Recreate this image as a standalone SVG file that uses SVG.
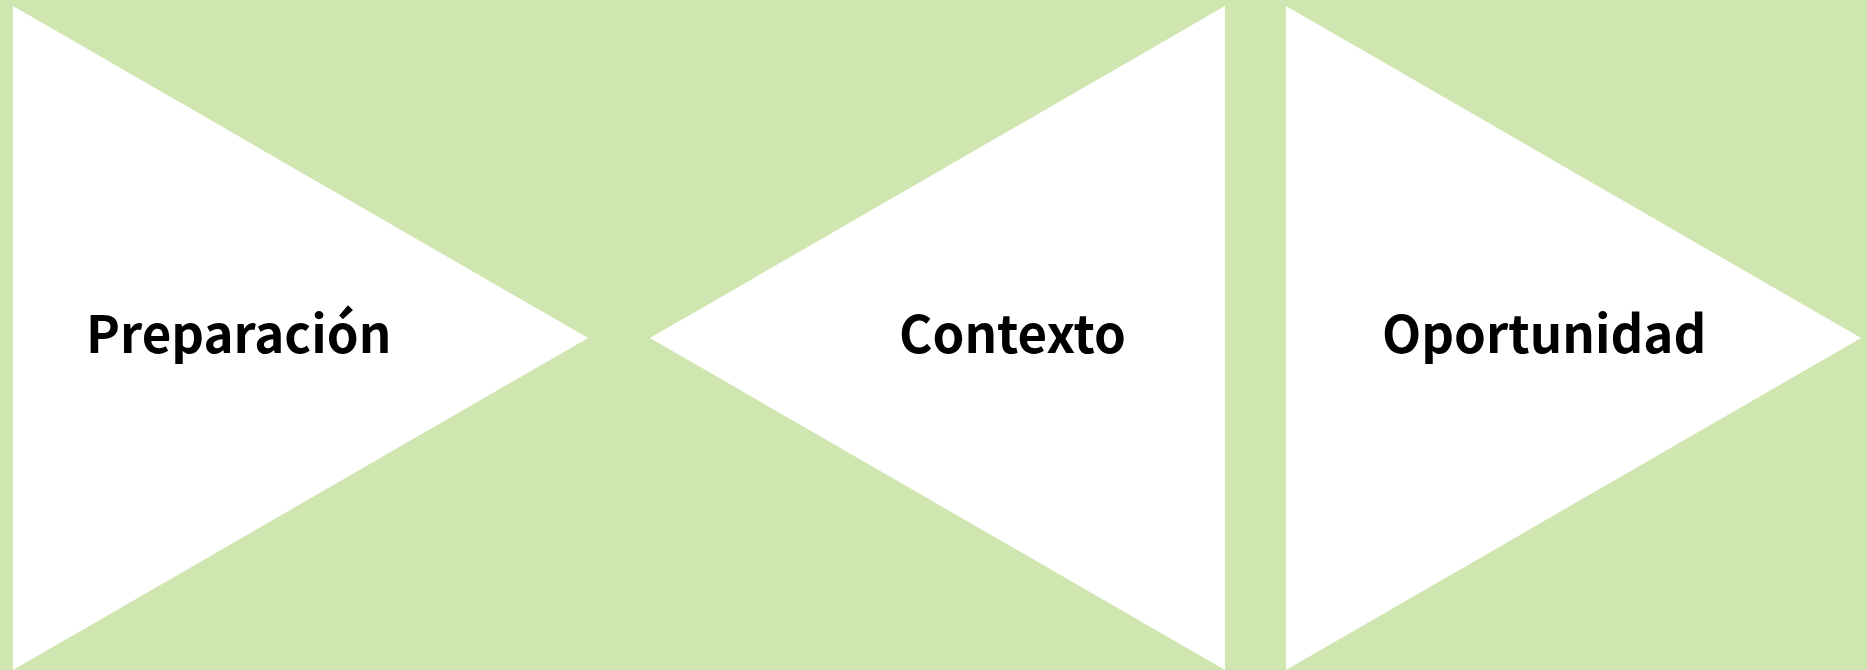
<svg xmlns="http://www.w3.org/2000/svg" width="1867" height="670" viewBox="0 0 1867 670">
<style>
.tri{fill:#ffffff;stroke:none}
.lbl{font-family:"Noto Sans CJK SC","Noto Sans","DejaVu Sans",sans-serif;font-size:51px;font-weight:600;fill:#000000}
</style>
<rect x="0" y="0" width="1867" height="670" fill="#d0e6b1"/>
<g id="node-preparacion">
<polygon class="tri" points="13,6 588,338 13,670"/>
<text class="lbl" x="86" y="353">Preparación</text>
</g>
<g id="node-contexto">
<polygon class="tri" points="1225,6 650,338 1225,670"/>
<text class="lbl" x="899" y="353">Contexto</text>
</g>
<g id="node-oportunidad">
<polygon class="tri" points="1286,6 1861,338 1286,670"/>
<text class="lbl" x="1382" y="353">Oportunidad</text>
</g>
<g id="connectors"></g>
</svg>
